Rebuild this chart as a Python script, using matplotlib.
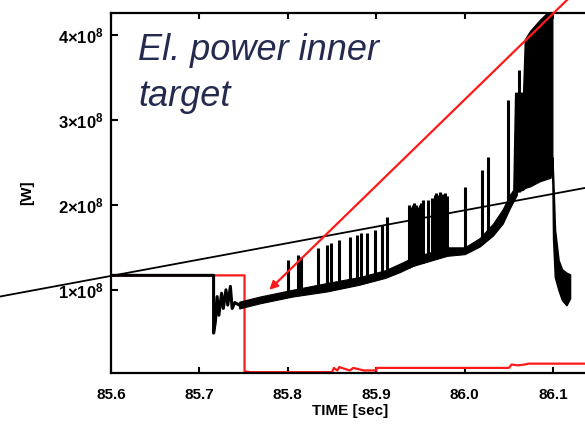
import matplotlib
matplotlib.use("Agg")
import matplotlib.pyplot as plt

plt.rcParams['font.family'] = ['Liberation Sans', 'DejaVu Sans']
plt.rcParams['mathtext.fontset'] = 'custom'
plt.rcParams['mathtext.rm'] = 'Liberation Sans'
plt.rcParams['mathtext.bf'] = 'Liberation Sans:bold'

# Inner-target electrical power, in units of 1e8 W
# main trace (centre line)
trace_t = [85.600, 85.716, 85.716, 85.718, 85.720, 85.722, 85.725, 85.727,
           85.730, 85.732, 85.735, 85.737, 85.740, 85.745]
trace_p = [1.17, 1.17, 0.49, 0.62, 0.92, 0.70, 0.96, 0.78,
           1.00, 0.82, 1.04, 0.78, 0.85, 0.82]

# noisy band of the slowly rising trace (lower / upper envelope)
band_t = [85.745, 85.768, 85.805, 85.844, 85.881, 85.910, 85.927, 85.941,
          85.980, 86.000, 86.017, 86.032, 86.043, 86.051, 86.059]
band_lo = [0.78, 0.84, 0.92, 0.98, 1.06, 1.14, 1.21, 1.28,
           1.40, 1.42, 1.51, 1.64, 1.78, 1.96, 2.12]
band_hi = [0.86, 0.92, 1.00, 1.08, 1.15, 1.23, 1.31, 1.38,
           1.50, 1.50, 1.61, 1.78, 1.95, 2.12, 2.24]

# high-power phase before the drop
burst_t = [86.055, 86.057, 86.066, 86.068, 86.074, 86.085, 86.097, 86.099]
burst_lo = [2.10, 2.15, 2.18, 2.20, 2.22, 2.28, 2.32, 2.50]
burst_hi = [2.20, 3.32, 3.32, 3.95, 4.05, 4.18, 4.30, 4.30]

# fall-off after the drop
tail_t = [86.099, 86.100, 86.102, 86.106, 86.110, 86.115, 86.119]
tail_lo = [2.50, 1.60, 1.15, 1.00, 0.88, 0.82, 0.90]
tail_hi = [2.56, 2.30, 1.71, 1.35, 1.24, 1.20, 1.18]

# individual spikes: time, base, peak
spike_t = [85.800, 85.811, 85.815, 85.834, 85.844, 85.849, 85.858, 85.870,
           85.878, 85.883, 85.890, 85.898, 85.907, 85.912,
           85.937, 85.939, 85.941, 85.943, 85.945, 85.947, 85.949, 85.951,
           85.953, 85.958, 85.963, 85.966, 85.968, 85.970, 85.972, 85.974,
           85.976, 85.978, 85.980,
           86.000, 86.020, 86.026, 86.049, 86.061]
spike_base = [0.95, 0.97, 0.97, 1.00, 1.02, 1.02, 1.04, 1.06,
              1.08, 1.09, 1.10, 1.12, 1.14, 1.15,
              1.26, 1.27, 1.28, 1.29, 1.30, 1.30, 1.31, 1.32,
              1.32, 1.34, 1.36, 1.37, 1.38, 1.38, 1.39, 1.40,
              1.40, 1.41, 1.41,
              1.44, 1.54, 1.60, 1.96, 2.15]
spike_peak = [1.35, 1.41, 1.39, 1.49, 1.53, 1.55, 1.59, 1.62,
              1.65, 1.67, 1.67, 1.71, 1.76, 1.86,
              2.00, 1.98, 2.00, 2.02, 2.00, 1.97, 2.00, 2.02,
              2.06, 2.06, 2.08, 2.12, 2.14, 2.12, 2.15, 2.13,
              2.12, 2.14, 2.10,
              2.21, 2.41, 2.56, 3.24, 3.59]

# second signal (red)
red_t = [85.600, 85.751, 85.751, 85.757, 85.850, 85.852, 85.856, 85.858,
         85.870, 85.874, 85.886, 85.900, 85.900, 86.050, 86.053, 86.060,
         86.068, 86.072, 86.140]
red_p = [1.17, 1.17, 0.04, 0.03, 0.03, 0.08, 0.05, 0.09,
         0.05, 0.08, 0.05, 0.05, 0.08, 0.08, 0.12, 0.11,
         0.12, 0.13, 0.13]

# straight guide line
guide_t = [85.440, 86.160]
guide_p = [0.854, 2.246]

# arrow
arrow_tip = (85.779, 1.00)
arrow_tail = (86.140, 4.66)

xticks = [85.6, 85.7, 85.8, 85.9, 86.0, 86.1]
xtick_labels = ['85.6', '85.7', '85.8', '85.9', '86.0', '86.1']
yticks = [1, 2, 3, 4]
ytick_labels = [r'$\mathbf{1{\times}10^{8}}$', r'$\mathbf{2{\times}10^{8}}$',
                r'$\mathbf{3{\times}10^{8}}$', r'$\mathbf{4{\times}10^{8}}$']

fig = plt.figure(figsize=(5.85, 4.30), dpi=100)
ax = fig.add_axes([111 / 585, 1 - 373 / 430, 474 / 585, 360 / 430])

ax.plot(red_t, red_p, color='#ff1a1a', lw=1.6, zorder=2)

ax.plot(trace_t, trace_p, color='black', lw=2.2, zorder=3)
ax.fill_between(band_t, band_lo, band_hi, color='black', lw=0.8,
                edgecolor='black', zorder=3)
ax.fill_between(burst_t, burst_lo, burst_hi, color='black', lw=1.0,
                edgecolor='black', zorder=3)
ax.fill_between(tail_t, tail_lo, tail_hi, color='black', lw=1.2,
                edgecolor='black', zorder=3)
ax.vlines(spike_t, spike_base, spike_peak, color='black', lw=2.2, zorder=3)

ax.plot(guide_t, guide_p, color='black', lw=1.3, clip_on=False, zorder=4)

ax.annotate('', xy=arrow_tip, xytext=arrow_tail, annotation_clip=False,
            arrowprops=dict(arrowstyle='-|>', color='#ff1a1a', lw=1.6,
                            mutation_scale=12, shrinkA=0, shrinkB=0),
            zorder=5)

ax.set_xlim(85.6, 86.136)
ax.set_ylim(0.02, 4.26)
ax.set_xticks(xticks)
ax.set_xticklabels(xtick_labels)
ax.set_yticks(yticks)
ax.set_yticklabels(ytick_labels)

ax.spines['right'].set_visible(False)
for s in ['left', 'top', 'bottom']:
    ax.spines[s].set_linewidth(1.6)

ax.tick_params(axis='x', which='both', direction='in', top=True, bottom=True,
               length=4, width=1.5, pad=11, labelsize=11)
ax.tick_params(axis='y', which='both', direction='in', left=True, right=False,
               length=5, width=1.5, pad=5, labelsize=12)
for lab in ax.get_xticklabels():
    lab.set_fontweight('bold')

ax.set_xlabel('TIME [sec]', fontsize=11, fontweight='bold')
ax.xaxis.set_label_coords((350 - 111) / 474, -(404 - 373) / 360)
ax.set_ylabel('[W]', fontsize=11, fontweight='bold', va='center')
ax.yaxis.set_label_coords(-(111 - 27) / 474, 0.5)

ax.text(0.057, 0.945, 'El. power inner\ntarget', transform=ax.transAxes,
        ha='left', va='top', fontsize=26, style='italic', color='#252a4f',
        linespacing=1.4, zorder=6)

fig.savefig('out.png', dpi=100)
